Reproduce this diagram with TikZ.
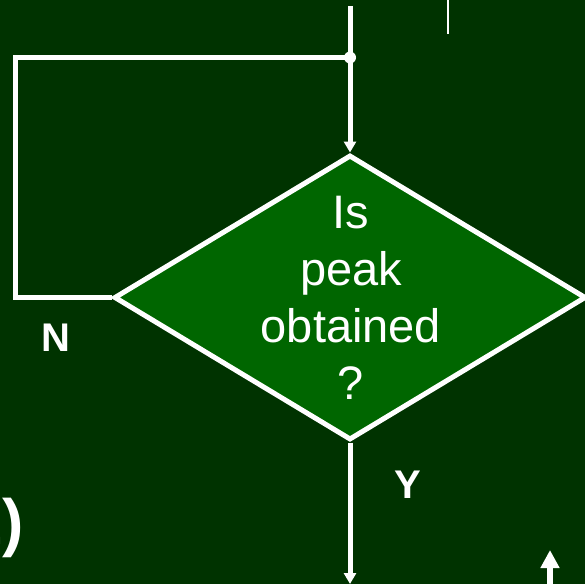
\documentclass[tikz,border=0pt]{standalone}
\usepackage{fontspec}
\setmainfont{Liberation Sans}
\usetikzlibrary{arrows.meta, shapes.geometric}
\definecolor{pkBack}{HTML}{003300}
\definecolor{pkFill}{HTML}{006600}
\definecolor{pkInk}{HTML}{FFFFFF}

\begin{document}
\begin{tikzpicture}[
    x=1pt, y=-1pt,
    dec/.style={diamond, draw=pkInk, line width=5pt, fill=pkFill, inner sep=0pt,
                minimum width=472pt, minimum height=285pt},
    qtext/.style={align=center, inner sep=0pt, text=pkInk,
                  font=\fontsize{47}{57}\selectfont},
    yn/.style={inner sep=0pt, text=pkInk, font=\fontsize{40}{48}\selectfont\bfseries},
    flow/.style={-{Triangle[length=11pt, width=12pt]}, line width=5pt, draw=pkInk},
    wire/.style={line width=5pt, draw=pkInk},
  ]
  \useasboundingbox[fill=pkBack] (0,0) rectangle (585,584);

  \node[dec] (chk) at (350,297.5) {};
  \node[qtext] (q) at (351,297.5) {Is\\peak\\obtained\\?};

  \coordinate (top) at (350,6);
  \coordinate (join) at (350,57.5);
  \coordinate (loopL) at (15.5,297.5);
  \coordinate (out) at (350,584);

  \draw[flow] (top) -- (chk.north);
  \draw[wire, line join=miter] (chk.west) -- (loopL) |- (join);
  \fill[pkInk] (join) circle (6pt);
  \draw[flow] (chk.south) -- (out);

  \node[yn] (no) at (55.5,337.5) {N};
  \node[yn] (yes) at (407.5,484.5) {Y};

  % pieces of the neighbouring parts of the chart
  \coordinate (tickA) at (448,0);
  \coordinate (tickB) at (448,34);
  \draw[pkInk, line width=1.5pt] (tickA) -- (tickB);
  \coordinate (upA) at (550,584);
  \coordinate (upB) at (550,550);
  \draw[-{Triangle[length=18pt, width=18pt]}, line width=6pt, draw=pkInk] (upA) -- (upB);
  \node[anchor=base east, inner sep=0pt, text=pkInk,
        font=\fontsize{64}{70}\selectfont\bfseries] (step2) at (24.5,544) {2)};
\end{tikzpicture}
\end{document}
